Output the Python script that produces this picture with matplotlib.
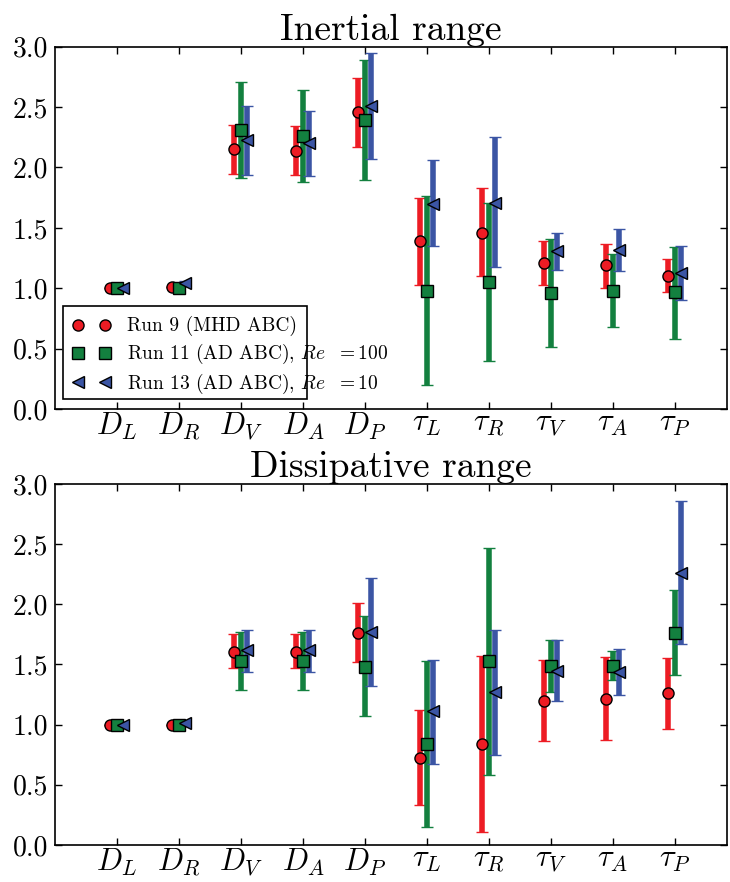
import numpy as np
import matplotlib
matplotlib.use('Agg')
import matplotlib.pyplot as plt
from matplotlib.lines import Line2D
from matplotlib.patches import Rectangle

plt.rcParams['mathtext.fontset'] = 'cm'
plt.rcParams['font.family'] = ['cmr10', 'DejaVu Serif']
plt.rcParams['axes.formatter.use_mathtext'] = True
plt.rcParams['axes.unicode_minus'] = False

labels = [r'$D_L$', r'$D_R$', r'$D_V$', r'$D_A$', r'$D_P$',
          r'$\tau_L$', r'$\tau_R$', r'$\tau_V$', r'$\tau_A$', r'$\tau_P$']

# inertial range
run9_in = [1.0, 1.01, 2.15, 2.14, 2.46, 1.39, 1.46, 1.21, 1.19, 1.10]
run9_in_lo = [1.0, 1.01, 1.95, 1.94, 2.17, 1.03, 1.10, 1.03, 1.00, 0.97]
run9_in_hi = [1.0, 1.01, 2.35, 2.34, 2.74, 1.75, 1.83, 1.39, 1.37, 1.24]
run11_in = [1.0, 1.0, 2.31, 2.26, 2.39, 0.98, 1.05, 0.96, 0.98, 0.97]
run11_in_lo = [1.0, 1.0, 1.91, 1.88, 1.90, 0.20, 0.40, 0.51, 0.68, 0.58]
run11_in_hi = [1.0, 1.0, 2.71, 2.64, 2.89, 1.76, 1.71, 1.41, 1.28, 1.34]
run13_in = [1.0, 1.04, 2.23, 2.20, 2.51, 1.70, 1.71, 1.31, 1.32, 1.13]
run13_in_lo = [1.0, 1.02, 1.94, 1.93, 2.07, 1.35, 1.18, 1.15, 1.14, 0.90]
run13_in_hi = [1.0, 1.06, 2.51, 2.47, 2.95, 2.06, 2.25, 1.46, 1.49, 1.35]

# dissipative range
run9_di = [1.0, 1.0, 1.60, 1.60, 1.76, 0.72, 0.84, 1.20, 1.21, 1.26]
run9_di_lo = [1.0, 1.0, 1.47, 1.47, 1.52, 0.33, 0.11, 0.86, 0.87, 0.96]
run9_di_hi = [1.0, 1.0, 1.75, 1.75, 2.01, 1.12, 1.57, 1.54, 1.56, 1.55]
run11_di = [1.0, 1.0, 1.53, 1.53, 1.48, 0.84, 1.53, 1.49, 1.49, 1.76]
run11_di_lo = [1.0, 1.0, 1.29, 1.29, 1.07, 0.15, 0.58, 1.27, 1.37, 1.41]
run11_di_hi = [1.0, 1.0, 1.77, 1.77, 1.90, 1.53, 2.47, 1.70, 1.61, 2.12]
run13_di = [1.0, 1.01, 1.62, 1.62, 1.77, 1.11, 1.27, 1.45, 1.44, 2.26]
run13_di_lo = [1.0, 1.01, 1.44, 1.44, 1.32, 0.67, 0.75, 1.20, 1.25, 1.67]
run13_di_hi = [1.0, 1.01, 1.79, 1.79, 2.22, 1.54, 1.79, 1.70, 1.63, 2.86]

run_names = ['Run 9 (MHD ABC)',
             r'Run 11 (AD ABC), $Re\ \ = 100$',
             r'Run 13 (AD ABC), $Re\ \ = 10$']
colors = ['#ed1c24', '#13803f', '#3b55a4']
markers = ['o', 's', '<']
msizes = [8, 8, 8]
offsets = [-0.105, 0.0, 0.105]

x = np.arange(1, 11)


def draw_panel(ax, series, title):
    for k, (val, lo, hi) in enumerate(series):
        val = np.array(val); lo = np.array(lo); hi = np.array(hi)
        yerr = [val - lo, hi - val]
        ax.errorbar(x + offsets[k], val, yerr=yerr, fmt=markers[k],
                    color=colors[k], ecolor=colors[k], mfc=colors[k],
                    mec='black', mew=1.0, ms=msizes[k],
                    elinewidth=4, capsize=4, capthick=1.5)
    ax.set_xlim(0, 10.84)
    ax.set_ylim(0, 3.0)
    ax.set_xticks(x)
    ax.set_xticklabels(labels, fontsize=22)
    ax.set_yticks(np.arange(0, 3.01, 0.5))
    ax.set_yticklabels(['%.1f' % v for v in np.arange(0, 3.01, 0.5)], fontsize=20)
    ax.tick_params(direction='in', top=True, right=True, length=5, width=1)
    ax.tick_params(axis='x', pad=1)
    ax.tick_params(axis='y', pad=5)
    for sp in ax.spines.values():
        sp.set_linewidth(1.2)
    ax.set_title(title, fontsize=27, pad=5)


fig = plt.figure(figsize=(7.3, 8.82), dpi=100)
ax1 = fig.add_axes([0.0753, 0.5363, 0.9205, 0.4107])
ax2 = fig.add_axes([0.0753, 0.0420, 0.9205, 0.4092])

draw_panel(ax1, [(run9_in, run9_in_lo, run9_in_hi),
                 (run11_in, run11_in_lo, run11_in_hi),
                 (run13_in, run13_in_lo, run13_in_hi)], 'Inertial range')
draw_panel(ax2, [(run9_di, run9_di_lo, run9_di_hi),
                 (run11_di, run11_di_lo, run11_di_hi),
                 (run13_di, run13_di_lo, run13_di_hi)], 'Dissipative range')

# legend frame is narrower than its text, as in the original
ax1.add_patch(Rectangle((0.012, 0.027), 0.363, 0.258, transform=ax1.transAxes,
                        facecolor='white', edgecolor='black', lw=1.2, zorder=4))
handles = [Line2D([], [], linestyle='none', marker=markers[k], color=colors[k],
                  mec='black', mew=1.0, ms=msizes[k]) for k in range(3)]
leg = ax1.legend(handles, run_names, loc='lower left', numpoints=2,
                 fontsize=14, frameon=False, borderaxespad=0.25,
                 handlelength=2.0, labelspacing=0.3,
                 bbox_to_anchor=(0.007, 0.0))
leg.set_zorder(5)

fig.savefig('out.png', dpi=100)
